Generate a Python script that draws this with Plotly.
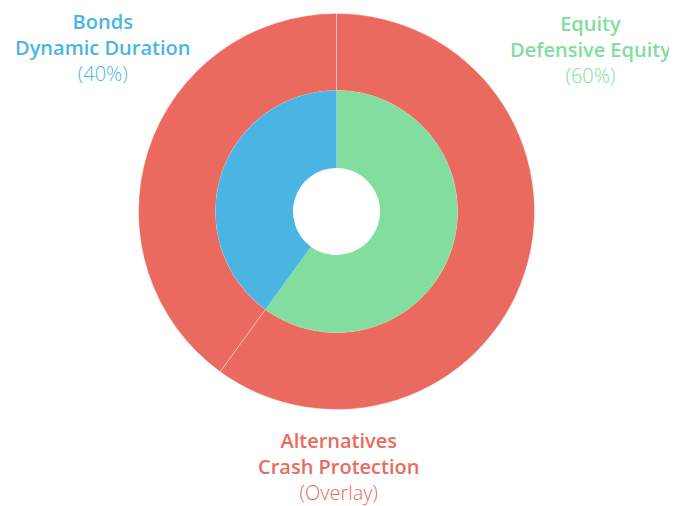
import plotly.graph_objects as go

# Data
inner_labels = ["Equity", "Bonds"]
inner_values = [60, 40]
outer_labels = ["Alternatives A", "Alternatives B"]
outer_values = [60, 40]

label_titles = ["Bonds", "Equity", "Alternatives"]
label_subtitles = ["Dynamic Duration", "Defensive Equity", "Crash Protection"]
label_notes = ["(40%)", "(60%)", "(Overlay)"]

RED = "#EB6A5F"
BLUE = "#4AB5E3"
GREEN = "#82DD9E"

W, H = 677, 506
OFF = 8  # page body margin
cx, cy = 336.5 - OFF, 211.5 - OFF
R_out, R_in, R_hole = 198, 121, 43.5


def dom(r):
    return dict(x=[(cx - r) / W, (cx + r) / W], y=[1 - (cy + r) / H, 1 - (cy - r) / H])


fig = go.Figure()
fig.add_trace(go.Pie(
    labels=outer_labels, values=outer_values, sort=False, direction="clockwise", rotation=0,
    hole=R_in / R_out, domain=dom(R_out), textinfo="none", hoverinfo="skip",
    marker=dict(colors=[RED, RED], line=dict(color="rgba(255,255,255,0.35)", width=1)),
    showlegend=False,
))
fig.add_trace(go.Pie(
    labels=inner_labels, values=inner_values, sort=False, direction="clockwise", rotation=0,
    hole=R_hole / R_in, domain=dom(R_in), textinfo="none", hoverinfo="skip",
    marker=dict(colors=[GREEN, BLUE], line=dict(width=0)),
    showlegend=False,
))

positions = [(102, 47, BLUE), (590, 50, GREEN), (338, 466, RED)]
annotations = []
for (x, y, col), t, s, n in zip(positions, label_titles, label_subtitles, label_notes):
    annotations.append(dict(
        x=(x - OFF) / W, y=1 - (y - OFF) / H, xref="paper", yref="paper",
        xanchor="center", yanchor="middle",
        showarrow=False, align="center",
        text=f"<span style='font-weight:600'>{t}</span><br>"
             f"<span style='font-weight:600'>{s}</span><br>"
             f"<span style='font-weight:300'>{n}</span>",
        font=dict(family="Open Sans", size=20, color=col),
    ))

fig.update_layout(
    width=W, height=H, margin=dict(l=0, r=0, t=0, b=0),
    paper_bgcolor="white", plot_bgcolor="white",
    annotations=annotations, showlegend=False,
)
fig.write_html("out.html")
